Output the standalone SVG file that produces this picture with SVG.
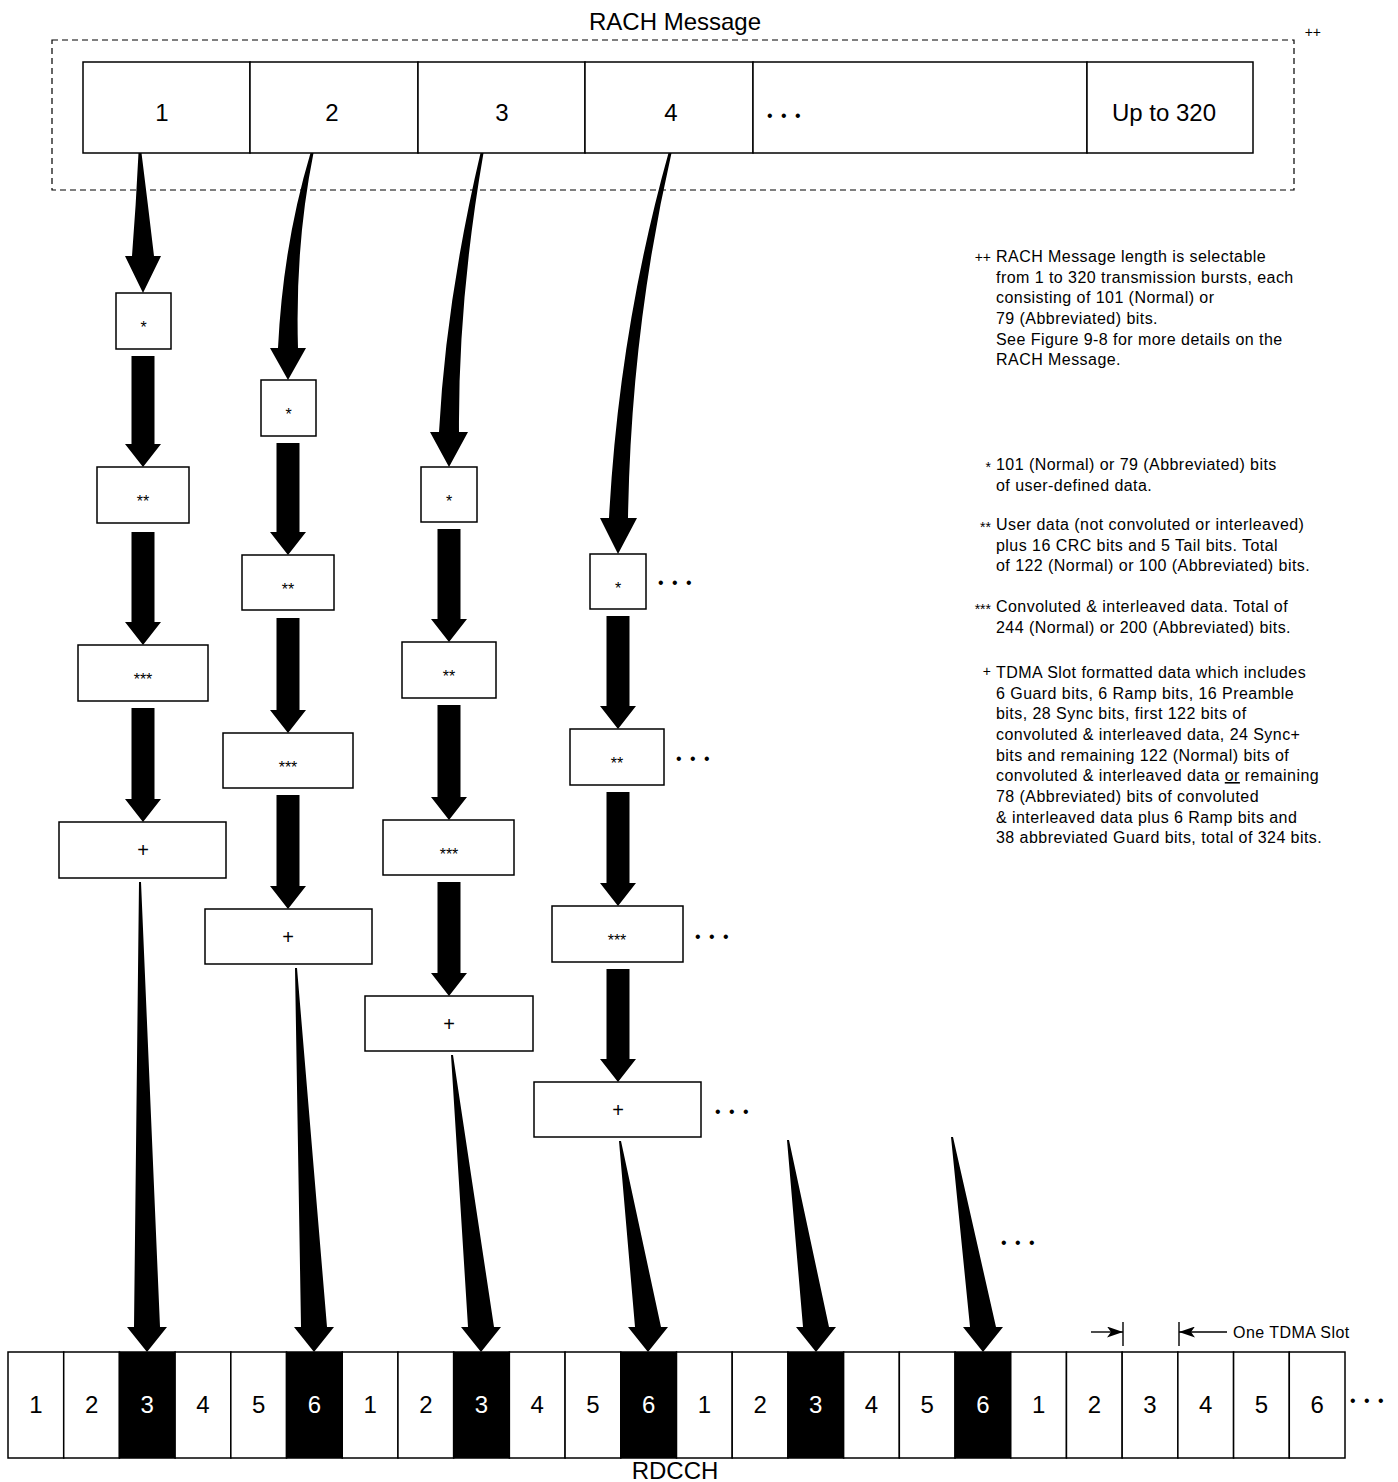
<svg xmlns="http://www.w3.org/2000/svg" width="1398" height="1482" viewBox="0 0 1398 1482">
<style>
text{font-family:"Liberation Sans",Arial,Helvetica,sans-serif;fill:#000}
.box{fill:#fff;stroke:#000;stroke-width:1.5}
.blk{fill:#000;stroke:#000;stroke-width:1.5}
.big{font-size:24px;text-anchor:middle}
.wt{fill:#fff}
.st{font-size:16px;text-anchor:middle}
.pl{font-size:20px;text-anchor:middle}
.dots{font-size:16px;letter-spacing:2px}
.note{font-size:16px;letter-spacing:0.45px}
.mk{font-size:14px;text-anchor:end}
.arr{fill:#000;stroke:none}
.ln{stroke:#000;stroke-width:1.4;fill:none}
</style>
<defs>
<marker id="ah" viewBox="0 0 16 11" refX="16" refY="5.5" markerWidth="16" markerHeight="11" markerUnits="userSpaceOnUse" orient="auto"><path d="M0,0 L16,5.5 L0,11 L4,5.5 Z" fill="#000"/></marker>
</defs>
<rect width="1398" height="1482" fill="#fff"/>

<text class="big" x="675" y="30">RACH Message</text>
<text class="mk" x="1321" y="37">++</text>
<rect x="52" y="40" width="1242" height="150" fill="none" stroke="#000" stroke-width="1.2" stroke-dasharray="6 4"/>

<g id="rach-message">
<g id="msg1"><rect class="box" x="83" y="62" width="167" height="91"/><text class="big" x="162" y="121">1</text></g>
<g id="msg2"><rect class="box" x="250" y="62" width="168" height="91"/><text class="big" x="332" y="121">2</text></g>
<g id="msg3"><rect class="box" x="418" y="62" width="167" height="91"/><text class="big" x="502" y="121">3</text></g>
<g id="msg4"><rect class="box" x="585" y="62" width="168" height="91"/><text class="big" x="671" y="121">4</text></g>
<g id="msgdots"><rect class="box" x="753" y="62" width="334" height="91"/><text class="dots" x="767" y="121">• • •</text></g>
<g id="msg320"><rect class="box" x="1087" y="62" width="166" height="91"/><text class="big" x="1164" y="121">Up to 320</text></g>
</g>

<g id="col1">
<g id="c1s1"><rect class="box" x="116" y="293" width="55" height="56"/><text class="st" x="143.5" y="333">*</text></g>
<g id="c1s2"><rect class="box" x="97" y="467" width="92" height="56"/><text class="st" x="143" y="507">**</text></g>
<g id="c1s3"><rect class="box" x="78" y="645" width="130" height="56"/><text class="st" x="143" y="685">***</text></g>
<g id="c1s4"><rect class="box" x="59" y="822" width="167" height="56"/><text class="pl" x="143" y="857">+</text></g>
</g>
<g id="col2">
<g id="c2s1"><rect class="box" x="261" y="380" width="55" height="56"/><text class="st" x="288.5" y="420">*</text></g>
<g id="c2s2"><rect class="box" x="242" y="555" width="92" height="55"/><text class="st" x="288" y="595">**</text></g>
<g id="c2s3"><rect class="box" x="223" y="733" width="130" height="55"/><text class="st" x="288" y="773">***</text></g>
<g id="c2s4"><rect class="box" x="205" y="909" width="167" height="55"/><text class="pl" x="288" y="944">+</text></g>
</g>
<g id="col3">
<g id="c3s1"><rect class="box" x="421" y="467" width="56" height="55"/><text class="st" x="449" y="507">*</text></g>
<g id="c3s2"><rect class="box" x="402" y="642" width="94" height="56"/><text class="st" x="449" y="682">**</text></g>
<g id="c3s3"><rect class="box" x="383" y="820" width="131" height="55"/><text class="st" x="449" y="860">***</text></g>
<g id="c3s4"><rect class="box" x="365" y="996" width="168" height="55"/><text class="pl" x="449" y="1031">+</text></g>
</g>
<g id="col4">
<g id="c4s1"><rect class="box" x="590" y="554" width="56" height="55"/><text class="st" x="618" y="594">*</text><text class="dots" x="658" y="588">• • •</text></g>
<g id="c4s2"><rect class="box" x="570" y="729" width="94" height="56"/><text class="st" x="617" y="769">**</text><text class="dots" x="676" y="764">• • •</text></g>
<g id="c4s3"><rect class="box" x="552" y="906" width="131" height="56"/><text class="st" x="617" y="946">***</text><text class="dots" x="695" y="942">• • •</text></g>
<g id="c4s4"><rect class="box" x="534" y="1082" width="167" height="55"/><text class="pl" x="618" y="1117">+</text><text class="dots" x="715" y="1117">• • •</text></g>
</g>

<g id="connectors">
<path class="arr" d="M138.5,153 Q136,205 132,256 L125,256 L143,293 L161,256 L154,256 Q148,205 141.5,153 Z"/>
<path class="arr" d="M310.5,153 Q283,245 278,348 L270,348 L288,380 L306,348 L298,348 Q295,245 313.5,153 Z"/>
<path class="arr" d="M480.5,153 Q446,300 439,432 L430,432 L449,467 L468,432 L459,432 Q458,300 483.5,153 Z"/>
<path class="arr" d="M668.5,153 Q619,330 609,518 L600,518 L618,554 L637,518 L628,518 Q631,330 671.5,153 Z"/>

<path class="arr" d="M131.5,356 H154.5 V444 H161 L143,467 L125,444 H131.5 Z"/>
<path class="arr" d="M131.5,532 H154.5 V622 H161 L143,645 L125,622 H131.5 Z"/>
<path class="arr" d="M131.5,708 H154.5 V799 H161 L143,822 L125,799 H131.5 Z"/>
<path class="arr" d="M276.5,443 H299.5 V532 H306 L288,555 L270,532 H276.5 Z"/>
<path class="arr" d="M276.5,618 H299.5 V710 H306 L288,733 L270,710 H276.5 Z"/>
<path class="arr" d="M276.5,795 H299.5 V886 H306 L288,909 L270,886 H276.5 Z"/>
<path class="arr" d="M437.5,529 H460.5 V619 H467 L449,642 L431,619 H437.5 Z"/>
<path class="arr" d="M437.5,705 H460.5 V797 H467 L449,820 L431,797 H437.5 Z"/>
<path class="arr" d="M437.5,882 H460.5 V973 H467 L449,996 L431,973 H437.5 Z"/>
<path class="arr" d="M606.5,616 H629.5 V706 H636 L618,729 L600,706 H606.5 Z"/>
<path class="arr" d="M606.5,792 H629.5 V883 H636 L618,906 L600,883 H606.5 Z"/>
<path class="arr" d="M606.5,969 H629.5 V1059 H636 L618,1082 L600,1059 H606.5 Z"/>

<path class="arr" d="M139,882 L134,1327 L127,1327 L147,1352 L167,1327 L160,1327 L141,882 Z"/>
<path class="arr" d="M295,968 L301,1327 L294,1327 L314,1352 L334,1327 L327,1327 L297,968 Z"/>
<path class="arr" d="M451,1055 L468,1327 L461,1327 L481,1352 L501,1327 L494,1327 L453,1055 Z"/>
<path class="arr" d="M619,1141 L635,1327 L628,1327 L648,1352 L668,1327 L661,1327 L621,1141 Z"/>
<path class="arr" d="M787,1140 L803,1327 L796,1327 L816,1352 L836,1327 L829,1327 L789,1140 Z"/>
<path class="arr" d="M951,1137 L970,1327 L963,1327 L983,1352 L1003,1327 L996,1327 L953,1137 Z"/>
</g>
<text class="dots" x="1001" y="1248">• • •</text>

<g id="notes">
<text class="mk" x="991" y="262">++</text>
<text class="note" x="996" y="262">RACH Message length is selectable</text>
<text class="note" x="996" y="283">from 1 to 320 transmission bursts, each</text>
<text class="note" x="996" y="303">consisting of 101 (Normal) or</text>
<text class="note" x="996" y="324">79 (Abbreviated) bits.</text>
<text class="note" x="996" y="345">See Figure 9-8 for more details on the</text>
<text class="note" x="996" y="365">RACH Message.</text>

<text class="mk" x="991" y="472">*</text>
<text class="note" x="996" y="470">101 (Normal) or 79 (Abbreviated) bits</text>
<text class="note" x="996" y="491">of user-defined data.</text>

<text class="mk" x="991" y="532">**</text>
<text class="note" x="996" y="530">User data (not convoluted or interleaved)</text>
<text class="note" x="996" y="551">plus 16 CRC bits and 5 Tail bits.  Total</text>
<text class="note" x="996" y="571">of 122 (Normal) or 100 (Abbreviated) bits.</text>

<text class="mk" x="991" y="614">***</text>
<text class="note" x="996" y="612">Convoluted &amp; interleaved data.  Total of</text>
<text class="note" x="996" y="633">244 (Normal) or 200 (Abbreviated) bits.</text>

<text class="mk" x="991" y="676">+</text>
<text class="note" x="996" y="678">TDMA Slot formatted data which includes</text>
<text class="note" x="996" y="699">6 Guard bits, 6 Ramp bits, 16 Preamble</text>
<text class="note" x="996" y="719">bits, 28 Sync bits, first 122 bits of</text>
<text class="note" x="996" y="740">convoluted &amp; interleaved data, 24 Sync+</text>
<text class="note" x="996" y="761">bits and remaining 122 (Normal) bits of</text>
<text class="note" x="996" y="781">convoluted &amp; interleaved data <tspan text-decoration="underline">or</tspan> remaining</text>
<text class="note" x="996" y="802">78 (Abbreviated) bits of convoluted</text>
<text class="note" x="996" y="823">&amp; interleaved data plus 6 Ramp bits and</text>
<text class="note" x="996" y="843">38 abbreviated Guard bits, total of 324 bits.</text>
</g>

<g id="tdma-annotation">
<line class="ln" x1="1123" y1="1322" x2="1123" y2="1346"/>
<line class="ln" x1="1179" y1="1322" x2="1179" y2="1346"/>
<line class="ln" x1="1091" y1="1332" x2="1123" y2="1332" marker-end="url(#ah)"/>
<line class="ln" x1="1227" y1="1332" x2="1179" y2="1332" marker-end="url(#ah)"/>
<text class="note" x="1233" y="1338">One TDMA Slot</text>
</g>

<g id="rdcch">
<g id="s1"><rect class="box" x="8" y="1352" width="55.71" height="106"/><text class="big" x="35.85" y="1413">1</text></g>
<g id="s2"><rect class="box" x="63.71" y="1352" width="55.71" height="106"/><text class="big" x="91.56" y="1413">2</text></g>
<g id="s3"><rect class="blk" x="119.42" y="1352" width="55.71" height="106"/><text class="big wt" x="147.27" y="1413">3</text></g>
<g id="s4"><rect class="box" x="175.12" y="1352" width="55.71" height="106"/><text class="big" x="202.98" y="1413">4</text></g>
<g id="s5"><rect class="box" x="230.83" y="1352" width="55.71" height="106"/><text class="big" x="258.69" y="1413">5</text></g>
<g id="s6"><rect class="blk" x="286.54" y="1352" width="55.71" height="106"/><text class="big wt" x="314.39" y="1413">6</text></g>
<g id="s7"><rect class="box" x="342.25" y="1352" width="55.71" height="106"/><text class="big" x="370.1" y="1413">1</text></g>
<g id="s8"><rect class="box" x="397.96" y="1352" width="55.71" height="106"/><text class="big" x="425.81" y="1413">2</text></g>
<g id="s9"><rect class="blk" x="453.67" y="1352" width="55.71" height="106"/><text class="big wt" x="481.52" y="1413">3</text></g>
<g id="s10"><rect class="box" x="509.37" y="1352" width="55.71" height="106"/><text class="big" x="537.23" y="1413">4</text></g>
<g id="s11"><rect class="box" x="565.08" y="1352" width="55.71" height="106"/><text class="big" x="592.94" y="1413">5</text></g>
<g id="s12"><rect class="blk" x="620.79" y="1352" width="55.71" height="106"/><text class="big wt" x="648.64" y="1413">6</text></g>
<g id="s13"><rect class="box" x="676.5" y="1352" width="55.71" height="106"/><text class="big" x="704.35" y="1413">1</text></g>
<g id="s14"><rect class="box" x="732.21" y="1352" width="55.71" height="106"/><text class="big" x="760.06" y="1413">2</text></g>
<g id="s15"><rect class="blk" x="787.92" y="1352" width="55.71" height="106"/><text class="big wt" x="815.77" y="1413">3</text></g>
<g id="s16"><rect class="box" x="843.62" y="1352" width="55.71" height="106"/><text class="big" x="871.48" y="1413">4</text></g>
<g id="s17"><rect class="box" x="899.33" y="1352" width="55.71" height="106"/><text class="big" x="927.19" y="1413">5</text></g>
<g id="s18"><rect class="blk" x="955.04" y="1352" width="55.71" height="106"/><text class="big wt" x="982.89" y="1413">6</text></g>
<g id="s19"><rect class="box" x="1010.75" y="1352" width="55.71" height="106"/><text class="big" x="1038.6" y="1413">1</text></g>
<g id="s20"><rect class="box" x="1066.46" y="1352" width="55.71" height="106"/><text class="big" x="1094.31" y="1413">2</text></g>
<g id="s21"><rect class="box" x="1122.17" y="1352" width="55.71" height="106"/><text class="big" x="1150.02" y="1413">3</text></g>
<g id="s22"><rect class="box" x="1177.87" y="1352" width="55.71" height="106"/><text class="big" x="1205.73" y="1413">4</text></g>
<g id="s23"><rect class="box" x="1233.58" y="1352" width="55.71" height="106"/><text class="big" x="1261.44" y="1413">5</text></g>
<g id="s24"><rect class="box" x="1289.29" y="1352" width="55.71" height="106"/><text class="big" x="1317.14" y="1413">6</text></g>
<text class="dots" x="1350" y="1406">• • •</text>
</g>
<text class="big" x="675" y="1479">RDCCH</text>
</svg>
